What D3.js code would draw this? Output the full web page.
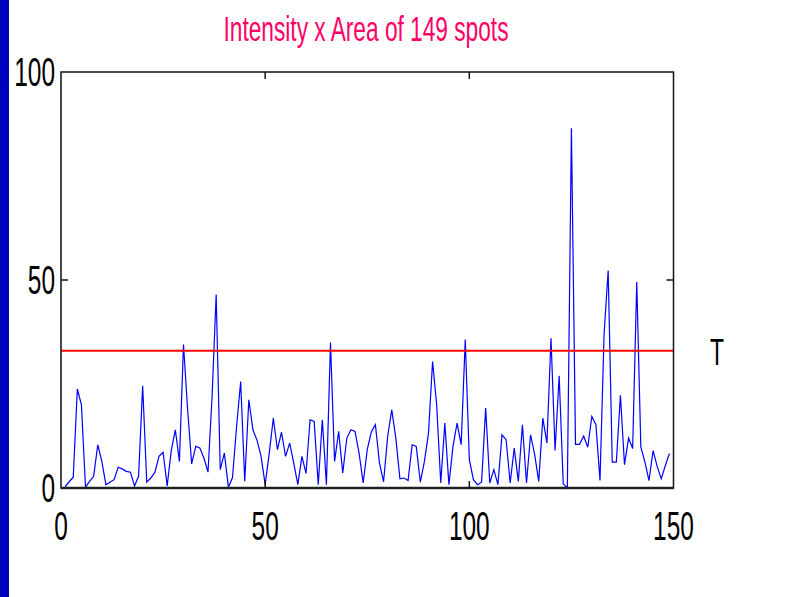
<!DOCTYPE html>
<html>
<head>
<meta charset="utf-8">
<script src="https://cdn.jsdelivr.net/npm/d3@7"></script>
<style>
  html, body { margin: 0; padding: 0; background: #fff; }
  svg { display: block; }
</style>
</head>
<body>
<script>
// values, one per spot (x = 1..149)
var spotValues = [
  0.3, 1.5, 2.6, 23.8, 20, 0.2, 1.6, 2.8, 10.4, 6.4,
  0.8, 1.4, 2, 5, 4.6, 4, 3.8, 0.5, 2.8, 24.6,
  1.4, 2.4, 3.8, 7.6, 8.6, 0.5, 9, 14, 6.4, 34.5,
  19, 5.8, 10, 9.6, 7.2, 3.8, 22, 46.5, 4.4, 8.4,
  0.2, 2.5, 14.8, 25.6, 1.6, 21.2, 14, 11.5, 7.6, 0.8,
  8.4, 16.8, 9.2, 13.4, 7.6, 10.8, 6, 0.8, 7.6, 3.5,
  16.4, 16, 0.8, 16.4, 0.8, 35, 6.4, 13.6, 3.6, 12,
  14, 13.6, 8.4, 1.2, 9.2, 13.5, 15.2, 6, 1.5, 12.4,
  18.8, 12, 2.2, 2.4, 1.8, 10.4, 10, 1.4, 6.4, 13.2,
  30.4, 20, 1.2, 15.6, 0.8, 10, 15.6, 10.4, 35.7, 6.8,
  2, 0.8, 1.4, 19.2, 1.2, 4.4, 0.8, 12.8, 11.6, 1.2,
  9.6, 1.6, 15.2, 1.2, 12.8, 8, 1.6, 16.8, 10.8, 36,
  9, 27, 1, 0, 86.5, 10.5, 10.5, 12.5, 9.8, 17.2,
  15.2, 1.8, 37, 52.3, 6.2, 6.2, 22.3, 5.6, 12, 9.5,
  49.5, 9.9, 6.2, 1.8, 9, 5.2, 2.2, 5.4, 8.3
];
var threshold = 33;
var xTicks = [0, 50, 100, 150];
var yTicks = [0, 50, 100];
var titleText = 'Intensity x Area of 149 spots';
var thresholdLabel = 'T';

var W = 787, H = 597;
var narrow = '"Liberation Sans Narrow", "Arial Narrow", "Liberation Sans", Arial, sans-serif';

var svg = d3.select('body').append('svg').attr('width', W).attr('height', H);

// slide's blue edge
svg.append('rect').attr('x', 0).attr('y', 0).attr('width', 9).attr('height', H).attr('fill', '#0000c0');

var x = d3.scaleLinear().domain([0, 150]).range([61, 673.5]);
var y = d3.scaleLinear().domain([0, 100]).range([488, 72]);

var data = spotValues.map(function(v, i) { return { i: i + 1, v: v }; });

// title
svg.append('text')
  .attr('x', 366).attr('y', 41)
  .attr('text-anchor', 'middle')
  .attr('font-family', narrow).attr('font-size', 35)
  .attr('fill', '#ff0066')
  .attr('textLength', 285).attr('lengthAdjust', 'spacingAndGlyphs')
  .text(titleText);

// data line
var line = d3.line().x(function(d) { return x(d.i); }).y(function(d) { return y(d.v); });
svg.append('path').datum(data)
  .attr('d', line)
  .attr('fill', 'none').attr('stroke', '#0000ff').attr('stroke-width', 1.2);

// threshold
svg.append('line')
  .attr('x1', x(0)).attr('x2', x(150))
  .attr('y1', y(threshold)).attr('y2', y(threshold))
  .attr('stroke', '#ff0000').attr('stroke-width', 2);

svg.append('text')
  .attr('x', 717).attr('y', 365)
  .attr('text-anchor', 'middle')
  .attr('font-family', narrow).attr('font-size', 36)
  .attr('textLength', 14).attr('lengthAdjust', 'spacingAndGlyphs')
  .text(thresholdLabel);

// box
svg.append('rect')
  .attr('x', x(0)).attr('y', y(100))
  .attr('width', x(150) - x(0)).attr('height', y(0) - y(100))
  .attr('fill', 'none').attr('stroke', '#111').attr('stroke-width', 1.5);
svg.append('line')
  .attr('x1', x(0)).attr('x2', x(150)).attr('y1', y(0)).attr('y2', y(0))
  .attr('stroke', '#222').attr('stroke-width', 2.5);

// inward ticks (inner values only)
var tl = 7;
var innerX = xTicks.slice(1, -1), innerY = yTicks.slice(1, -1);
svg.selectAll('.xt-b').data(innerX).enter().append('line')
  .attr('x1', x).attr('x2', x).attr('y1', y(0)).attr('y2', y(0) - tl)
  .attr('stroke', '#111').attr('stroke-width', 1.5);
svg.selectAll('.xt-t').data(innerX).enter().append('line')
  .attr('x1', x).attr('x2', x).attr('y1', y(100)).attr('y2', y(100) + tl)
  .attr('stroke', '#111').attr('stroke-width', 1.5);
svg.selectAll('.yt-l').data(innerY).enter().append('line')
  .attr('x1', x(0)).attr('x2', x(0) + tl).attr('y1', y).attr('y2', y)
  .attr('stroke', '#111').attr('stroke-width', 1.5);
svg.selectAll('.yt-r').data(innerY).enter().append('line')
  .attr('x1', x(150)).attr('x2', x(150) - tl).attr('y1', y).attr('y2', y)
  .attr('stroke', '#111').attr('stroke-width', 1.5);

// tick labels (tall, narrow digits)
var digitW = 13.6;
svg.selectAll('.xl').data(xTicks).enter().append('text')
  .attr('x', function(d) { return x(d); }).attr('y', 540)
  .attr('text-anchor', 'middle')
  .attr('font-family', narrow).attr('font-size', 40)
  .attr('textLength', function(d) { return String(d).length * digitW; })
  .attr('lengthAdjust', 'spacingAndGlyphs')
  .text(function(d) { return d; });

svg.selectAll('.yl').data(yTicks).enter().append('text')
  .attr('x', 55).attr('y', function(d) { return y(d) + 14; })
  .attr('text-anchor', 'end')
  .attr('font-family', narrow).attr('font-size', 40)
  .attr('textLength', function(d) { return String(d).length * digitW; })
  .attr('lengthAdjust', 'spacingAndGlyphs')
  .text(function(d) { return d; });
</script>
</body>
</html>
